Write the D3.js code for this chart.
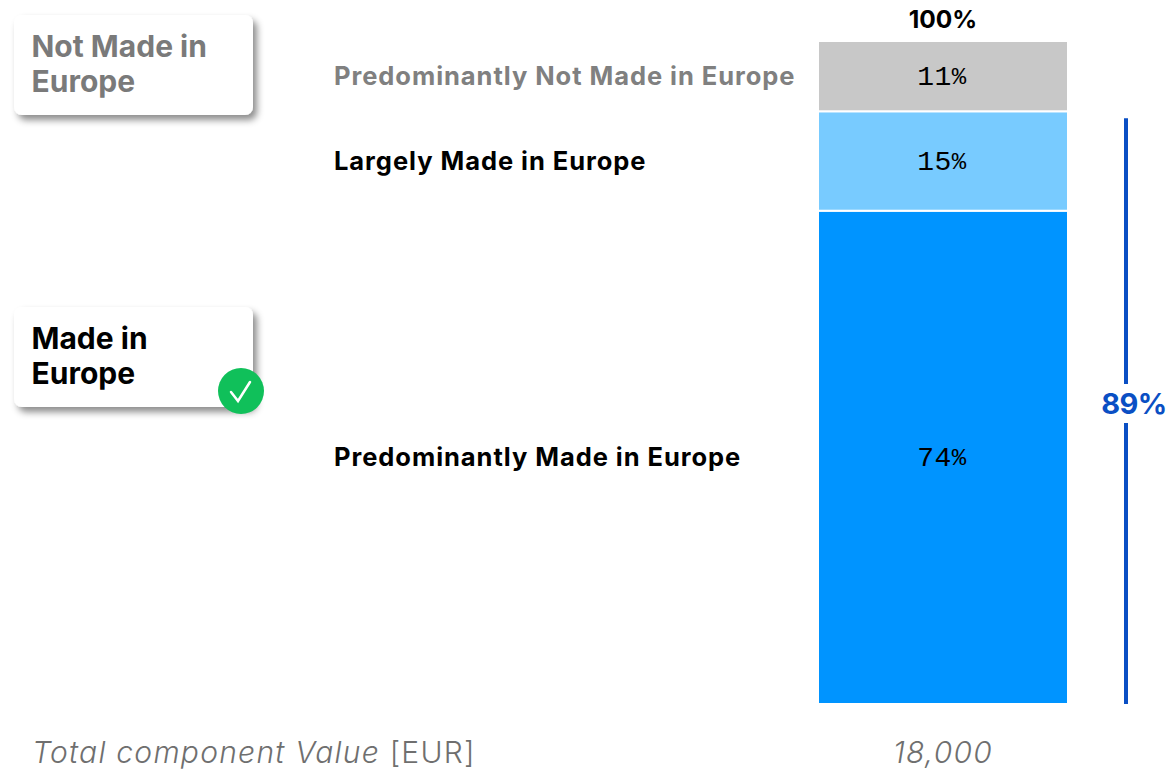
<!DOCTYPE html>
<html>
<head>
<meta charset="utf-8">
<script src="https://cdn.jsdelivr.net/npm/d3@7"></script>
<style>
  html, body { margin: 0; padding: 0; background: #fff; }
  svg { display: block; }
  .head { font-family: "Inter", sans-serif; font-weight: 700; }
  .mono { font-family: "Liberation Mono", monospace; }
  .foot { font-family: "Inter", sans-serif; font-weight: 300; font-style: italic; fill: #6f6f6f; letter-spacing: 1.25px; }
</style>
</head>
<body>
<script>
var w = 1168;
var h = 770;

// bottom to top, heights
var categories = ["Predominantly Made in Europe", "Largely Made in Europe", "Predominantly Not Made in Europe"];
var shares = [74.4, 15, 10.6];
var shareLabels = ["74", "15", "11"];
var barColors = ["#0094ff", "#78cbff", "#c8c8c8"];
var labelColors = ["#000000", "#000000", "#808080"];
var totalLabel = "100%";
var bracketLabel = "89%";
var bracketShare = 89.4;
var badges = [
  {lines: ["Not Made in", "Europe"], color: "#7a7a7a", y: 15, check: false},
  {lines: ["Made in", "Europe"], color: "#000000", y: 307, check: true}
];

var svg = d3.select("body")
    .append("svg")
    .attr("width", w)
    .attr("height", h);

var defs = svg.append("defs");
var shadow = defs.append("filter")
    .attr("id", "shadow")
    .attr("x", "-10%").attr("y", "-15%")
    .attr("width", "125%").attr("height", "140%");
shadow.append("feDropShadow")
    .attr("dx", 4).attr("dy", 5)
    .attr("stdDeviation", 3.5)
    .attr("flood-color", "#000")
    .attr("flood-opacity", 0.45);

var yScale = d3.scaleLinear()
    .domain([0, 100])
    .range([704, 41]);

var xBand = d3.scaleBand()
    .domain(["total"])
    .range([818, 1068]);

var stack = d3.stack().keys(categories);
var row = {};
categories.forEach(function(c, i) { row[c] = shares[i]; });
var series = stack([row]);

// bars
svg.append("g").selectAll("rect")
    .data(series)
    .enter().append("rect")
    .attr("x", xBand("total"))
    .attr("width", xBand.bandwidth())
    .attr("y", function(d) { return yScale(d[0][1]); })
    .attr("height", function(d) { return yScale(d[0][0]) - yScale(d[0][1]); })
    .attr("fill", function(d, i) { return barColors[i]; })
    .attr("stroke", "#fff")
    .attr("stroke-width", 2);

// value labels inside the bars, with the small percent sign
var centerY = function(d) { return (yScale(d[0][0]) + yScale(d[0][1])) / 2; };
var xMid = xBand("total") + xBand.bandwidth() / 2;

var valueText = svg.append("g").selectAll("text")
    .data(series)
    .enter().append("text")
    .attr("class", "mono")
    .attr("text-anchor", "middle")
    .attr("x", xMid - 1)
    .attr("y", function(d) { return centerY(d) + 9; })
    .attr("font-size", 28)
    .attr("letter-spacing", 0.5)
    .attr("fill", "#000");
valueText.append("tspan").text(function(d, i) { return shareLabels[i]; });
valueText.append("tspan").attr("font-size", 24).attr("dy", -1).text("%");

// category labels
svg.append("g").selectAll("text")
    .data(series)
    .enter().append("text")
    .attr("class", "head")
    .attr("x", 334)
    .attr("y", function(d) { return centerY(d) + 9; })
    .attr("font-size", 25.5)
    .attr("letter-spacing", 0.95)
    .attr("fill", function(d, i) { return labelColors[i]; })
    .text(function(d) { return d.key; });

// total on top
svg.append("text")
    .attr("class", "head")
    .attr("text-anchor", "middle")
    .attr("x", xMid)
    .attr("y", 28)
    .attr("font-size", 24.5)
    .attr("font-weight", 800)
    .text(totalLabel);

// bracket with its label
var bracketTop = yScale(bracketShare) + 7;
var bracketMid = 403;
svg.append("line")
    .attr("x1", 1126).attr("x2", 1126)
    .attr("y1", bracketTop).attr("y2", bracketMid - 19)
    .attr("stroke", "#0a4fc4").attr("stroke-width", 4);
svg.append("line")
    .attr("x1", 1126).attr("x2", 1126)
    .attr("y1", bracketMid + 20).attr("y2", yScale(0))
    .attr("stroke", "#0a4fc4").attr("stroke-width", 4);
svg.append("text")
    .attr("class", "head")
    .attr("text-anchor", "middle")
    .attr("x", 1134)
    .attr("y", bracketMid + 11)
    .attr("font-size", 29)
    .attr("font-weight", 800)
    .attr("letter-spacing", -0.5)
    .attr("fill", "#0a4fc4")
    .text(bracketLabel);

// badges on the left
var badge = svg.append("g").selectAll("g")
    .data(badges)
    .enter().append("g")
    .attr("transform", function(d) { return "translate(14," + d.y + ")"; });

badge.append("rect")
    .attr("width", 239)
    .attr("height", 100)
    .attr("rx", 8)
    .attr("fill", "#fff")
    .attr("filter", "url(#shadow)");

badge.append("text")
    .attr("class", "head")
    .attr("font-size", 30)
    .attr("fill", function(d) { return d.color; })
    .selectAll("tspan")
    .data(function(d) { return d.lines; })
    .enter().append("tspan")
    .attr("x", 17.5)
    .attr("y", function(d, i) { return 42 + i * 35; })
    .text(function(d) { return d; });

var checked = badge.filter(function(d) { return d.check; });
checked.append("circle")
    .attr("cx", 227)
    .attr("cy", 84)
    .attr("r", 23)
    .attr("fill", "#10c05a");
checked.append("path")
    .attr("d", "M217 85 L224 94 L236 75")
    .attr("fill", "none")
    .attr("stroke", "#fff")
    .attr("stroke-width", 2.5)
    .attr("stroke-linecap", "round");

// footer
var foot = svg.append("text")
    .attr("class", "foot")
    .attr("x", 32)
    .attr("y", 763)
    .attr("font-size", 30);
foot.append("tspan").text("Total component Value ");
foot.append("tspan").attr("font-style", "normal").text("[EUR]");

svg.append("text")
    .attr("class", "foot")
    .attr("text-anchor", "middle")
    .attr("x", xMid)
    .attr("y", 763)
    .attr("font-size", 30)
    .text("18,000");
</script>
</body>
</html>
